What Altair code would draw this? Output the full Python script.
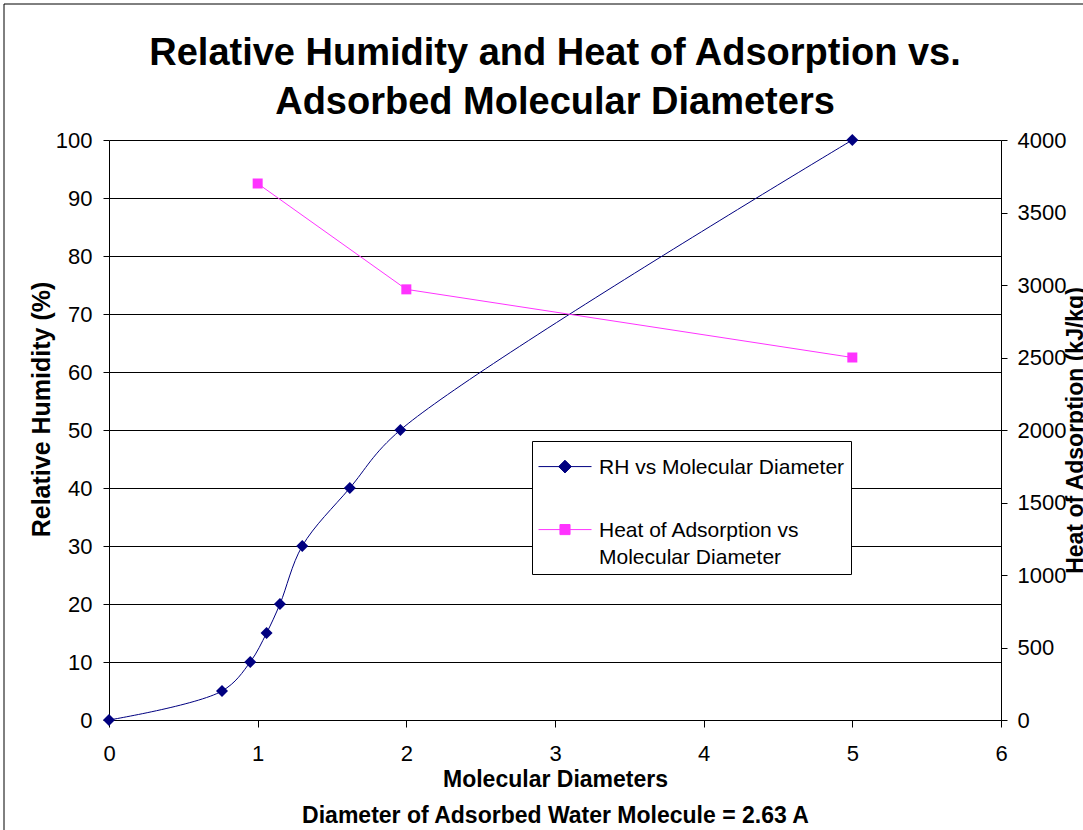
import altair as alt
import pandas as pd

# --- data -------------------------------------------------------------
rh_diameters = [0.0, 0.76, 0.95, 1.06, 1.15, 1.30, 1.62, 1.96, 5.0]
rh_percent = [0, 5, 10, 15, 20, 30, 40, 50, 100]

heat_diameters = [1.0, 2.0, 5.0]
heat_kj_per_kg = [3700, 2970, 2500]

series_names = ["RH vs Molecular Diameter", "Heat of Adsorption vs Molecular Diameter"]
series_colors = ["#000080", "#FF33FF"]

x_ticks = [0, 1, 2, 3, 4, 5, 6]
rh_ticks = [0, 10, 20, 30, 40, 50, 60, 70, 80, 90, 100]
heat_ticks = [0, 500, 1000, 1500, 2000, 2500, 3000, 3500, 4000]

title_lines = ["Relative Humidity and Heat of Adsorption vs.", "Adsorbed Molecular Diameters"]
x_title_lines = ["Molecular Diameters", "Diameter of Adsorbed Water Molecule = 2.63 A"]

rh_df = pd.DataFrame({"diameter": rh_diameters, "rh": rh_percent})
heat_df = pd.DataFrame({"diameter": heat_diameters, "heat": heat_kj_per_kg})
legend_df = pd.DataFrame({"series": series_names})

FONT = "Liberation Sans"
W, H = 892, 580

# legend glyphs: a short line with the series marker in the middle
# (raised so they sit level with the first text line of each label)
diamond_glyph = "M-1,-0.28L1,-0.28M0,-0.52L0.24,-0.28L0,-0.04L-0.24,-0.28Z"
square_glyph = "M-1,-0.28L1,-0.28M-0.19,-0.47L0.19,-0.47L0.19,-0.09L-0.19,-0.09Z"

x_enc = alt.X(
    "diameter:Q",
    scale=alt.Scale(domain=[0, 6], nice=False, zero=False),
    axis=alt.Axis(
        values=x_ticks, format="d", grid=False, labelFlush=False,
        tickSize=7, labelPadding=16, labelFontSize=22,
        title=x_title_lines, titleFontSize=23, titleFontWeight="bold",
        titleLineHeight=36, titleBaseline="alphabetic", titleY=66,
    ),
)

rh_layer = alt.Chart(rh_df).mark_line(
    color=series_colors[0], strokeWidth=1, interpolate="catmull-rom",
    point=alt.OverlayMarkDef(shape="diamond", size=144, filled=True,
                             color=series_colors[0], opacity=1),
).encode(
    x=x_enc,
    y=alt.Y(
        "rh:Q",
        scale=alt.Scale(domain=[0, 100], nice=False),
        axis=alt.Axis(
            values=rh_ticks, grid=True, gridColor="#000000", gridWidth=1,
            tickSize=6, labelPadding=11, labelFontSize=22,
            title="Relative Humidity (%)", titleFontSize=25, titleFontWeight="bold",
            titleAngle=270, titleBaseline="middle", titleX=-68, titleY=269,
        ),
    ),
)

heat_layer = alt.Chart(heat_df).mark_line(
    color=series_colors[1], strokeWidth=1,
    point=alt.OverlayMarkDef(shape="square", size=100, filled=True,
                             color=series_colors[1], opacity=1),
).encode(
    x=alt.X("diameter:Q"),
    y=alt.Y(
        "heat:Q",
        scale=alt.Scale(domain=[0, 4000], nice=False),
        axis=alt.Axis(
            orient="right", values=heat_ticks, format="d", grid=False,
            tickSize=6, labelPadding=10, labelFontSize=22,
            title="Heat of Adsorption (kJ/kg)", titleFontSize=23, titleFontWeight="bold",
            titleAngle=270, titleBaseline="middle", titleX=74, titleY=290,
        ),
    ),
)

legend_def = alt.Legend(
    title=None, orient="none", legendX=423, legendY=301,
    labelFont=FONT, labelFontSize=21, labelColor="#000000", labelLimit=0,
    labelBaseline="alphabetic", labelOffset=7,
    labelExpr="datum.label == 'Heat of Adsorption vs Molecular Diameter' ? "
              "['Heat of Adsorption vs', 'Molecular Diameter'] : datum.label",
    symbolSize=2809, symbolStrokeWidth=1, symbolOffset=0,
    strokeColor="#000000", fillColor="#FFFFFF", padding=6, rowPadding=32,
    cornerRadius=0,
)

legend_layer = alt.Chart(legend_df).transform_filter("false").mark_point(
    filled=True, strokeWidth=1, opacity=1
).encode(
    fill=alt.Fill("series:N", scale=alt.Scale(domain=series_names, range=series_colors),
                  legend=legend_def),
    stroke=alt.Stroke("series:N", scale=alt.Scale(domain=series_names, range=series_colors),
                      legend=legend_def),
    shape=alt.Shape("series:N", scale=alt.Scale(domain=series_names,
                                                range=[diamond_glyph, square_glyph]),
                    legend=legend_def),
)

# thin border around the whole chart area
frame = alt.Chart(legend_df).transform_filter("datum.series == 'RH vs Molecular Diameter'").mark_rect(
    fill=None, stroke="#000000", strokeWidth=1
).encode(
    x=alt.value(-105), x2=alt.value(W + 120),
    y=alt.value(-136), y2=alt.value(H + 130),
)

chart = alt.layer(rh_layer, heat_layer, legend_layer, frame).resolve_scale(
    y="independent"
).properties(
    width=W, height=H,
    padding={"left": 109, "top": 140, "right": 82, "bottom": 110},
    autosize=alt.AutoSizeParams(type="none"),
    background="#FFFFFF",
    title=alt.TitleParams(
        text=title_lines, font=FONT, fontSize=38, fontWeight="bold",
        color="#000000", lineHeight=49, anchor="middle", offset=-118,
    ),
).configure(
    font=FONT,
    style={"guide-label": {"lineHeight": 27}},
).configure_axis(
    labelFont=FONT, titleFont=FONT, labelColor="#000000", titleColor="#000000",
    domainColor="#000000", tickColor="#000000", domainWidth=1, tickWidth=1,
).configure_view(
    stroke=None,
)

chart.save("out.html", embed_options={"renderer": "svg", "actions": False})
